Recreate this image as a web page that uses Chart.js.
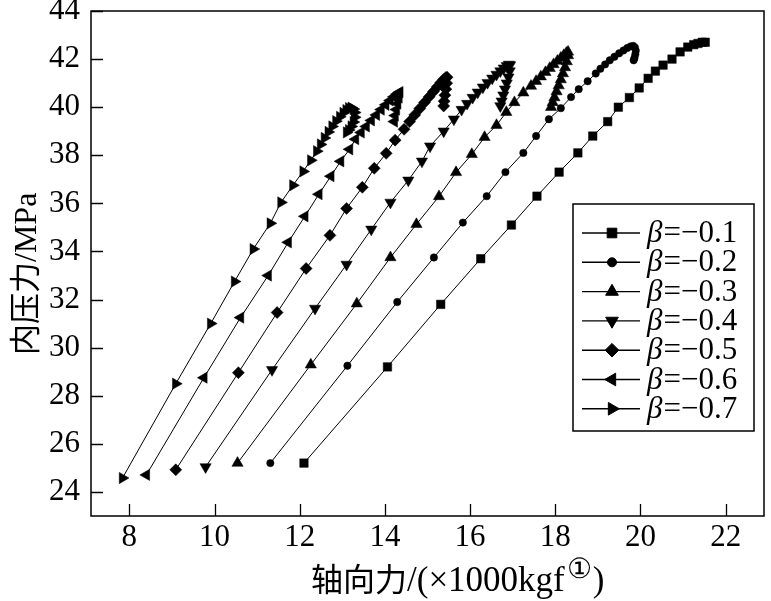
<!DOCTYPE html>
<html>
<head>
<meta charset="utf-8">
<script src="https://cdn.jsdelivr.net/npm/chart.js@4.4.1/dist/chart.umd.min.js"></script>
<style>
html, body { margin: 0; padding: 0; background: #fff; }
#wrap { width: 771px; height: 601px; }
</style>
</head>
<body>
<div id="wrap"><canvas id="c"></canvas></div>
<script>
// tick values
const xTicks = [8, 10, 12, 14, 16, 18, 20, 22];
const yTicks = [24, 26, 28, 30, 32, 34, 36, 38, 40, 42, 44];

const names = ['β=−0.1', 'β=−0.2', 'β=−0.3', 'β=−0.4', 'β=−0.5', 'β=−0.6', 'β=−0.7'];

// beta = -0.1
const x1 = [12.10, 14.06, 15.31, 16.25, 16.97, 17.57, 18.09, 18.53, 18.88, 19.23, 19.48, 19.74, 19.97, 20.18, 20.35, 20.53, 20.74, 20.93, 21.11, 21.25, 21.35, 21.45, 21.52];
const y1 = [25.2, 29.2, 31.8, 33.7, 35.1, 36.3, 37.3, 38.1, 38.8, 39.4, 40.0, 40.4, 40.8, 41.2, 41.5, 41.75, 42.0, 42.3, 42.5, 42.6, 42.65, 42.7, 42.7];
// beta = -0.2
const x2 = [11.31, 13.12, 14.29, 15.15, 15.83, 16.39, 16.83, 17.25, 17.55, 17.85, 18.13, 18.37, 18.55, 18.76, 18.95, 19.06, 19.17, 19.28, 19.39, 19.50, 19.60, 19.69, 19.77, 19.83, 19.87, 19.89, 19.88, 19.86, 19.84];
const y2 = [25.2, 29.25, 31.9, 33.75, 35.2, 36.3, 37.3, 38.1, 38.8, 39.5, 39.96, 40.42, 40.75, 41.08, 41.4, 41.6, 41.78, 41.95, 42.1, 42.24, 42.36, 42.46, 42.53, 42.55, 42.48, 42.35, 42.2, 42.05, 41.95];
// beta = -0.3
const x3 = [10.54, 12.26, 13.34, 14.13, 14.74, 15.27, 15.67, 16.04, 16.34, 16.62, 16.85, 17.04, 17.25, 17.43, 17.55, 17.66, 17.77, 17.87, 17.96, 18.05, 18.13, 18.20, 18.26, 18.30, 18.30, 18.27, 18.23, 18.18, 18.13, 18.08, 18.03, 17.98, 17.94, 17.90];
const y3 = [25.2, 29.29, 31.83, 33.75, 35.13, 36.29, 37.29, 38.04, 38.75, 39.25, 39.79, 40.2, 40.6, 40.88, 41.08, 41.27, 41.45, 41.62, 41.78, 41.92, 42.05, 42.16, 42.25, 42.3, 42.15, 41.9, 41.65, 41.4, 41.15, 40.9, 40.65, 40.4, 40.2, 40.0];
// beta = -0.4
const x4 = [9.79, 11.35, 12.36, 13.10, 13.68, 14.13, 14.55, 14.87, 15.06, 15.38, 15.62, 15.80, 15.93, 16.06, 16.18, 16.30, 16.41, 16.52, 16.62, 16.71, 16.79, 16.86, 16.91, 16.94, 16.93, 16.90, 16.86, 16.82, 16.78, 16.74, 16.71];
const y4 = [25.04, 29.08, 31.63, 33.46, 34.92, 36.04, 36.96, 37.75, 38.38, 39.0, 39.5, 39.9, 40.15, 40.4, 40.62, 40.83, 41.02, 41.2, 41.36, 41.5, 41.62, 41.72, 41.78, 41.75, 41.5, 41.25, 41.0, 40.75, 40.5, 40.25, 40.05];
// beta = -0.5
const x5 = [9.09, 10.56, 11.47, 12.15, 12.71, 13.10, 13.47, 13.75, 14.03, 14.24, 14.45, 14.58, 14.70, 14.82, 14.93, 15.04, 15.14, 15.23, 15.31, 15.38, 15.43, 15.46, 15.45, 15.43, 15.41, 15.39, 15.38];
const y5 = [24.92, 28.96, 31.46, 33.29, 34.67, 35.79, 36.67, 37.46, 38.08, 38.63, 39.08, 39.4, 39.68, 39.95, 40.2, 40.43, 40.65, 40.85, 41.02, 41.15, 41.23, 41.25, 41.0, 40.75, 40.5, 40.25, 40.05];
// beta = -0.6
const x6 = [8.40, 9.75, 10.61, 11.26, 11.73, 12.12, 12.45, 12.73, 12.96, 13.17, 13.31, 13.44, 13.56, 13.68, 13.80, 13.91, 14.02, 14.12, 14.21, 14.28, 14.33, 14.35, 14.33, 14.30, 14.27, 14.24, 14.22];
const y6 = [24.71, 28.75, 31.25, 33.0, 34.38, 35.46, 36.38, 37.13, 37.75, 38.25, 38.67, 38.95, 39.2, 39.45, 39.68, 39.9, 40.1, 40.28, 40.43, 40.54, 40.6, 40.63, 40.4, 40.15, 39.9, 39.65, 39.4];
// beta = -0.7
const x7 = [7.84, 9.09, 9.91, 10.47, 10.91, 11.31, 11.56, 11.84, 12.08, 12.26, 12.40, 12.49, 12.58, 12.67, 12.76, 12.85, 12.94, 13.02, 13.09, 13.15, 13.21, 13.26, 13.29, 13.29, 13.26, 13.21, 13.15, 13.10];
const y7 = [24.58, 28.5, 31.0, 32.75, 34.1, 35.17, 36.04, 36.75, 37.33, 37.79, 38.17, 38.45, 38.72, 38.97, 39.2, 39.42, 39.6, 39.76, 39.88, 39.96, 39.98, 39.92, 39.78, 39.58, 39.38, 39.2, 39.05, 38.95];

const xs = [x1, x2, x3, x4, x5, x6, x7];
const ys = [y1, y2, y3, y4, y5, y6, y7];
const styles = [
  {pointStyle: 'rect', radius: 6, rotation: 0},
  {pointStyle: 'circle', radius: 3.7, rotation: 0},
  {pointStyle: 'triangle', radius: 6.5, rotation: 0},
  {pointStyle: 'triangle', radius: 6.5, rotation: 180},
  {pointStyle: 'rectRot', radius: 6, rotation: 0},
  {pointStyle: 'triangle', radius: 6.5, rotation: 270},
  {pointStyle: 'triangle', radius: 6.5, rotation: 90}
];

const serif = "'Liberation Serif', 'Times New Roman', serif";
const cjk = "'Noto Sans CJK SC', sans-serif";

const datasets = names.map((n, i) => ({
  label: n,
  data: xs[i].map((v, j) => ({x: v, y: ys[i][j]})),
  showLine: true,
  borderColor: '#000',
  borderWidth: 1,
  backgroundColor: '#000',
  pointBackgroundColor: '#000',
  pointBorderColor: '#000',
  pointBorderWidth: 0.5,
  pointStyle: styles[i].pointStyle,
  pointRadius: styles[i].radius,
  pointRotation: styles[i].rotation,
  tension: 0
}));

// marker for the legend box, same shapes as chart.js uses
function mark(ctx, st, cx, cy) {
  const r = st.radius + 0.8;
  const rad = st.rotation * Math.PI / 180;
  ctx.beginPath();
  if (st.pointStyle === 'rect') {
    const s = r * Math.SQRT1_2;
    ctx.rect(cx - s, cy - s, 2 * s, 2 * s);
  } else if (st.pointStyle === 'circle') {
    ctx.arc(cx, cy, r, 0, Math.PI * 2);
  } else if (st.pointStyle === 'rectRot') {
    ctx.moveTo(cx, cy - r); ctx.lineTo(cx + r, cy); ctx.lineTo(cx, cy + r); ctx.lineTo(cx - r, cy);
  } else {
    for (let k = 0; k < 3; k++) {
      const a = rad + k * 2 * Math.PI / 3;
      const px = cx + Math.sin(a) * r, py = cy - Math.cos(a) * r;
      if (k === 0) ctx.moveTo(px, py); else ctx.lineTo(px, py);
    }
  }
  ctx.closePath();
  ctx.fillStyle = '#000';
  ctx.strokeStyle = '#000';
  ctx.lineWidth = 1;
  ctx.fill();
  ctx.stroke();
}

const decor = {
  id: 'decor',
  afterDraw(chart) {
    const {ctx, chartArea: a, scales: {x, y}} = chart;
    ctx.save();
    ctx.strokeStyle = '#000';
    ctx.lineWidth = 1.5;
    ctx.strokeRect(a.left, a.top, a.right - a.left, a.bottom - a.top);
    ctx.lineWidth = 1.3;
    ctx.beginPath();
    xTicks.forEach(v => {
      const px = Math.round(x.getPixelForValue(v)) + 0.5;
      ctx.moveTo(px, a.bottom); ctx.lineTo(px, a.bottom - 12);
    });
    yTicks.forEach(v => {
      const py = Math.round(y.getPixelForValue(v)) + 0.5;
      ctx.moveTo(a.left, py); ctx.lineTo(a.left + 12, py);
    });
    ctx.stroke();

    // legend
    const lx = 573, ly = 204, lw = 181, lh = 227;
    ctx.fillStyle = '#fff';
    ctx.fillRect(lx, ly, lw, lh);
    ctx.lineWidth = 1.5;
    ctx.strokeRect(lx, ly, lw, lh);
    ctx.textBaseline = 'middle';
    names.forEach((n, i) => {
      const cy = ly + 29 + i * 29.3;
      ctx.strokeStyle = '#000';
      ctx.lineWidth = 1.4;
      ctx.beginPath(); ctx.moveTo(582, cy); ctx.lineTo(640, cy); ctx.stroke();
      mark(ctx, styles[i], 612, cy);
      ctx.fillStyle = '#000';
      ctx.font = 'italic 31px ' + serif;
      ctx.textAlign = 'left';
      ctx.fillText(n[0], 647, cy + 1);
      const bw = ctx.measureText(n[0]).width;
      ctx.font = '31px ' + serif;
      ctx.fillText(n.slice(1), 647 + bw + 1, cy + 1);
    });

    // x title
    ctx.textBaseline = 'alphabetic';
    ctx.textAlign = 'left';
    let tx = 311;
    const by = 591;
    ctx.font = '32px ' + cjk;
    ctx.fillText('轴向力', tx, by);
    tx += ctx.measureText('轴向力').width;
    ctx.font = '35px ' + serif;
    ctx.fillText('/(×1000kgf', tx, by);
    tx += ctx.measureText('/(×1000kgf').width + 2;
    ctx.font = '28px ' + serif;
    ctx.fillText('①', tx, by - 13);
    tx += ctx.measureText('①').width + 1;
    ctx.font = '35px ' + serif;
    ctx.fillText(')', tx, by);

    // y title
    ctx.save();
    ctx.translate(36, 355);
    ctx.rotate(-Math.PI / 2);
    ctx.font = '31px ' + cjk;
    ctx.fillText('内压力', 0, 0);
    const cw = ctx.measureText('内压力').width;
    ctx.font = '32px ' + serif;
    ctx.fillText('/MPa', cw, 0);
    ctx.restore();
    ctx.restore();
  }
};

new Chart(document.getElementById('c'), {
  type: 'scatter',
  data: {datasets},
  options: {
    responsive: true,
    maintainAspectRatio: false,
    animation: false,
    layout: {padding: {top: 11, right: 1, left: 0, bottom: 0}},
    plugins: {legend: {display: false}, tooltip: {enabled: false}},
    scales: {
      x: {
        type: 'linear', min: 7.1, max: 22.9,
        afterBuildTicks: s => { s.ticks = xTicks.map(v => ({value: v})); },
        afterFit: s => { s.height = 85; s.paddingLeft = 0; s.paddingRight = 0; },
        grid: {display: false}, border: {display: false},
        ticks: {color: '#000', font: {family: serif, size: 31}, padding: -5, maxRotation: 0}
      },
      y: {
        type: 'linear', min: 23, max: 44,
        afterBuildTicks: s => { s.ticks = yTicks.map(v => ({value: v})); },
        afterFit: s => { s.width = 91; s.paddingTop = 0; s.paddingBottom = 0; },
        grid: {display: false}, border: {display: false},
        ticks: {color: '#000', font: {family: serif, size: 31}, padding: 3}
      }
    }
  },
  plugins: [decor]
});
</script>
</body>
</html>
